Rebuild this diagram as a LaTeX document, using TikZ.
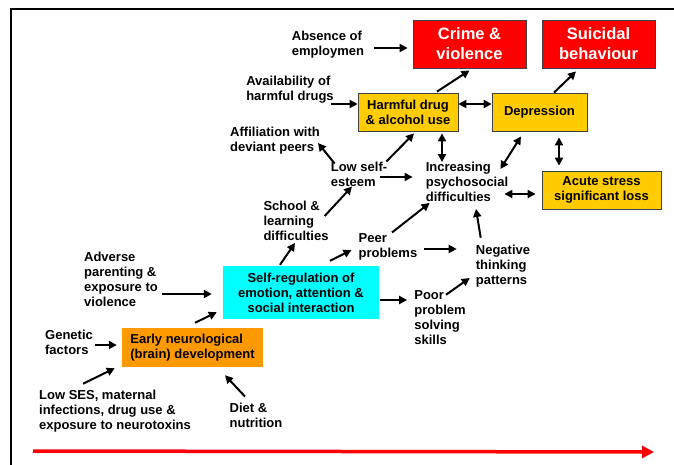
\documentclass[tikz,border=0pt]{standalone}
\usepackage{fontspec}
\setmainfont{Liberation Sans}
\usetikzlibrary{calc,arrows.meta}
\definecolor{boxred}{RGB}{255,0,0}
\definecolor{boxyellow}{RGB}{255,204,0}
\definecolor{boxcyan}{RGB}{0,255,255}
\definecolor{boxorange}{RGB}{255,153,0}
\definecolor{boxline}{RGB}{64,64,64}
\tikzset{
	lbl/.style={font=\bfseries\fontsize{13}{15}\selectfont, align=left, inner sep=0pt},
	outcome/.style={fill=boxred, draw=boxline, line width=0.8pt, text=white, inner sep=0pt, minimum width=113pt, minimum height=48pt, align=center, font=\bfseries\fontsize{16.5}{20}\selectfont},
	midbox/.style={fill=boxyellow, draw=boxline, line width=0.8pt, inner sep=0pt, minimum height=38pt, align=center, font=\bfseries\fontsize{13}{15}\selectfont},
	arr/.style={line width=2pt, -{Triangle[length=8pt,width=8pt]}},
	darr/.style={line width=2pt, {Triangle[length=8pt,width=8pt]}-{Triangle[length=8pt,width=8pt]}}
}

\begin{document}
\begin{tikzpicture}[x=1pt,y=-1pt]
		%%%%% START %%%%%
		\useasboundingbox (0,0) rectangle (674,465);
		\draw[line width=2.5pt] (11,470) -- (11,9) -- (680,9);
		
		\node[outcome] (crime) at (469.5,44) {Crime \&\\violence};
		\node[outcome] (suicide) at (598.5,44) {Suicidal\\behaviour};
		\node[midbox, minimum width=100pt] (harmful) at (408,112) {Harmful drug\\\& alcohol use};
		\node[midbox, minimum width=95pt] (depress) at (539.5,112) {Depression};
		\node[midbox, minimum width=119pt] (acute) at (601.5,190) {Acute stress\\significant loss};
		\node[fill=boxcyan, inner sep=0pt, minimum width=156pt, minimum height=53pt, align=center, font=\bfseries\fontsize{13}{15}\selectfont] (selfreg) at (301,292.5) {Self-regulation of\\emotion, attention \&\\social interaction};
		\node[fill=boxorange, inner sep=0pt, minimum width=141pt, minimum height=39pt, align=left, font=\bfseries\fontsize{13}{15}\selectfont] (early) at (192.5,347.5) {Early neurological\\(brain) development};
		
		\node[lbl] (absence) at (328,45) {Absence of\\employmen};
		\node[lbl] (avail) at (290,90) {Availability of\\harmful drugs};
		\node[lbl] (affil) at (275,141) {Affiliation with\\deviant peers};
		\node[lbl] (lowself) at (359,174) {Low self-\\esteem};
		\node[lbl] (incr) at (467,182) {Increasing\\psychosocial\\difficulties};
		\node[lbl] (school) at (296,221) {School \&\\learning\\difficulties};
		\node[lbl] (peer) at (388,247) {Peer\\problems};
		\node[lbl] (negat) at (503,266) {Negative\\thinking\\patterns};
		\node[lbl] (poor) at (440,318) {Poor\\problem\\solving\\skills};
		\node[lbl] (adverse) at (121,279) {Adverse\\parenting \&\\exposure to\\violence};
		\node[lbl] (genetic) at (69,342) {Genetic\\factors};
		\node[lbl] (lowses) at (115,411) {Low SES, maternal\\infections, drug use \&\\exposure to neurotoxins};
		\node[lbl] (diet) at (256,415) {Diet \&\\nutrition};
		
		% upper part
		\draw[arr] ($(absence.east)+(10,3)$) -- ($(crime.west)+(-5,4)$);
		\draw[arr] ($(avail.east |- harmful.west)+(-3,-8)$) -- ($(harmful.west)+(0,-8)$);
		\draw[arr] ($(harmful.north)+(29,-1)$) -- ($(crime.south)+(0,2)$);
		\draw[arr] ($(depress.north)+(14.5,0)$) -- ($(suicide.south)+(-22.5,3)$);
		\draw[darr] ($(harmful.east)+(0,-8)$) -- ($(depress.west)+(0,-8)$);
		\draw[arr] ($(lowself.north west)+(4,2)$) -- ($(affil.east)+(-2,2)$);
		\draw[arr] ($(lowself.north east)+(-1,0)$) -- ($(harmful.south)+(6,2)$);
		\draw[darr] ($(harmful.south)+(34,2)$) -- ($(harmful.south |- incr.north)+(34,0)$);
		\draw[darr] ($(depress.south)+(-18.5,5)$) -- ($(incr.north east)+(-8,7)$);
		\draw[darr] ($(depress.south)+(19.5,6)$) -- ($(acute.north)+(-42.5,-5)$);
		\draw[darr] ($(incr.east)+(-4,12)$) -- ($(acute.west)+(-6,4)$);
		\draw[arr] ($(lowself.east)+(-7,3)$) -- ($(incr.west)+(-13,-5)$);
		
		% middle part
		\draw[arr] ($(school.east)+(-4,-5)$) -- ($(lowself.south)+(-7,0)$);
		\draw[arr] ($(selfreg.north)+(-21,-1)$) -- ($(school.south)+(-1,2)$);
		\draw[arr] ($(selfreg.north)+(29,-5)$) -- ($(peer.west)+(-7,3)$);
		\draw[arr] ($(peer.north)+(4,-1)$) -- ($(incr.south west)+(4,1)$);
		\draw[arr] ($(peer.east)+(7,2)$) -- ($(negat.west)+(-19,-17)$);
		\draw[arr] ($(negat.north west)+(5,-7)$) -- ($(incr.south)+(9,7)$);
		\draw[arr] ($(selfreg.east)+(1,7.5)$) -- ($(poor.west)+(-7,-18)$);
		\draw[arr] ($(poor.north)+(6,4)$) -- ($(negat.west)+(-6,12)$);
		\draw[arr] ($(adverse.east)+(4,15)$) -- ($(selfreg.west)+(-11,1.5)$);
		
		% lower part
		\draw[arr] ($(early.north)+(2.5,-5)$) -- ($(selfreg.south west)+(-6,-7)$);
		\draw[arr] ($(genetic.east)+(2,3)$) -- ($(early.west)+(-5,-2.5)$);
		\draw[arr] ($(lowses.north)+(-32,-6)$) -- ($(early.south west)+(-7,1)$);
		\draw[arr] ($(diet.north)+(-11,-6)$) -- ($(early.south)+(32.5,8)$);
		
		\coordinate (tstart) at (33,451);
		\coordinate (tend) at (654,452);
		\draw[red, line width=3.5pt, -{Triangle[length=12pt,width=12pt]}] (tstart) -- (tend);
		%%%%% END %%%%%
\end{tikzpicture}
\end{document}
